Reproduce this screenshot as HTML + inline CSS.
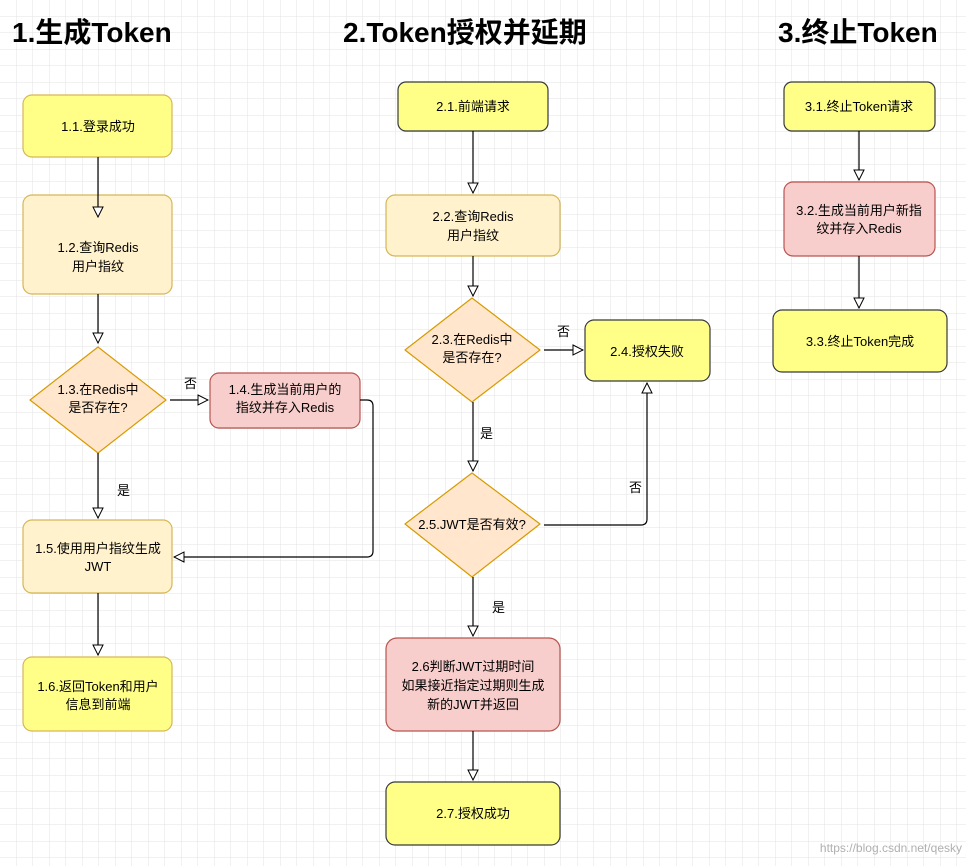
<!DOCTYPE html>
<html><head><meta charset="utf-8"><style>
html,body{margin:0;padding:0;background:#fff;}
svg{display:block;}
text{font-family:"Liberation Sans","Noto Sans CJK SC",sans-serif;fill:#000;}
.t{font-size:13px;text-anchor:middle;}
.h{font-size:28px;font-weight:bold;}
.l{font-size:13px;}
</style></head><body>
<svg width="966" height="866" viewBox="0 0 966 866" xmlns="http://www.w3.org/2000/svg">
<defs>
<pattern id="g" width="16.5" height="16.5" patternUnits="userSpaceOnUse" x="0" y="0">
<path d="M16.5 0V16.5H0" fill="none" stroke="#e3e3e3" stroke-width="1"/>
</pattern>
<marker id="a" markerWidth="12" markerHeight="12" refX="11" refY="6" orient="auto" markerUnits="userSpaceOnUse">
<path d="M1,1 L11,6 L1,11 Z" fill="#fff" stroke="#000" stroke-width="1"/>
</marker>
</defs>
<rect width="966" height="866" fill="url(#g)"/>

<text class="h" x="12" y="42">1.生成Token</text>
<text class="h" x="343" y="42">2.Token授权并延期</text>
<text class="h" x="778" y="42">3.终止Token</text>

<g stroke-width="1.2">
<!-- col1 -->
<rect x="23" y="95" width="149" height="62" rx="9" fill="#ffff88" stroke="#d6b656"/>
<rect x="23" y="195" width="149" height="99" rx="9" fill="#fff2cc" stroke="#d6b656"/>
<path d="M98,347 L166,400 L98,453 L30,400 Z" fill="#ffe6cc" stroke="#d79b00" stroke-linejoin="round"/>
<rect x="210" y="373" width="150" height="55" rx="9" fill="#f8cecc" stroke="#b85450"/>
<rect x="23" y="520" width="149" height="73" rx="9" fill="#fff2cc" stroke="#d6b656"/>
<rect x="23" y="657" width="149" height="74" rx="9" fill="#ffff88" stroke="#d6b656"/>
<!-- col2 -->
<rect x="398" y="82" width="150" height="49" rx="8" fill="#ffff88" stroke="#36393d"/>
<rect x="386" y="195" width="174" height="61" rx="9" fill="#fff2cc" stroke="#d6b656"/>
<path d="M472,298 L540,350 L472,402 L405,350 Z" fill="#ffe6cc" stroke="#d79b00" stroke-linejoin="round"/>
<rect x="585" y="320" width="125" height="61" rx="9" fill="#ffff88" stroke="#36393d"/>
<path d="M472,473 L540,524 L472,577 L405,524 Z" fill="#ffe6cc" stroke="#d79b00" stroke-linejoin="round"/>
<rect x="386" y="638" width="174" height="93" rx="11" fill="#f8cecc" stroke="#b85450"/>
<rect x="386" y="782" width="174" height="63" rx="9" fill="#ffff88" stroke="#36393d"/>
<!-- col3 -->
<rect x="784" y="82" width="151" height="49" rx="8" fill="#ffff88" stroke="#36393d"/>
<rect x="784" y="182" width="151" height="74" rx="9" fill="#f8cecc" stroke="#b85450"/>
<rect x="773" y="310" width="174" height="62" rx="9" fill="#ffff88" stroke="#36393d"/>
</g>

<g stroke="#000" stroke-width="1.2" fill="none">
<path d="M98,157 V217" marker-end="url(#a)"/>
<path d="M98,294 V343" marker-end="url(#a)"/>
<path d="M98,453 V518" marker-end="url(#a)"/>
<path d="M170,400 H208" marker-end="url(#a)"/>
<path d="M360,400 H367 Q373,400 373,406 V551 Q373,557 367,557 H174" marker-end="url(#a)"/>
<path d="M98,593 V655" marker-end="url(#a)"/>
<path d="M473,131 V193" marker-end="url(#a)"/>
<path d="M473,256 V296" marker-end="url(#a)"/>
<path d="M544,350 H583" marker-end="url(#a)"/>
<path d="M473,402 V471" marker-end="url(#a)"/>
<path d="M544,525 H641 Q647,525 647,519 V383" marker-end="url(#a)"/>
<path d="M473,577 V636" marker-end="url(#a)"/>
<path d="M473,731 V780" marker-end="url(#a)"/>
<path d="M859,131 V180" marker-end="url(#a)"/>
<path d="M859,256 V308" marker-end="url(#a)"/>
</g>

<text class="t" x="98" y="131">1.1.登录成功</text>
<text class="t" x="98" y="252">1.2.查询Redis</text>
<text class="t" x="98" y="271">用户指纹</text>
<text class="t" x="98" y="394">1.3.在Redis中</text>
<text class="t" x="98" y="412">是否存在?</text>
<text class="t" x="285" y="394">1.4.生成当前用户的</text>
<text class="t" x="285" y="412">指纹并存入Redis</text>
<text class="t" x="98" y="553">1.5.使用用户指纹生成</text>
<text class="t" x="98" y="571">JWT</text>
<text class="t" x="98" y="691">1.6.返回Token和用户</text>
<text class="t" x="98" y="709">信息到前端</text>
<text class="l" x="184" y="388">否</text>
<text class="l" x="117" y="495">是</text>

<text class="t" x="473" y="111">2.1.前端请求</text>
<text class="t" x="473" y="221">2.2.查询Redis</text>
<text class="t" x="473" y="240">用户指纹</text>
<text class="t" x="472" y="344">2.3.在Redis中</text>
<text class="t" x="472" y="362">是否存在?</text>
<text class="t" x="647" y="356">2.4.授权失败</text>
<text class="t" x="472" y="529">2.5.JWT是否有效?</text>
<text class="t" x="473" y="671">2.6判断JWT过期时间</text>
<text class="t" x="473" y="690">如果接近指定过期则生成</text>
<text class="t" x="473" y="709">新的JWT并返回</text>
<text class="t" x="473" y="818">2.7.授权成功</text>
<text class="l" x="557" y="336">否</text>
<text class="l" x="480" y="438">是</text>
<text class="l" x="629" y="492">否</text>
<text class="l" x="492" y="612">是</text>

<text class="t" x="859" y="111">3.1.终止Token请求</text>
<text class="t" x="859" y="215">3.2.生成当前用户新指</text>
<text class="t" x="859" y="233">纹并存入Redis</text>
<text class="t" x="860" y="346">3.3.终止Token完成</text>

<text x="962" y="852" style="font-size:12px;fill:#b0b0b0;text-anchor:end">https://blog.csdn.net/qesky</text>
</svg>
</body></html>
